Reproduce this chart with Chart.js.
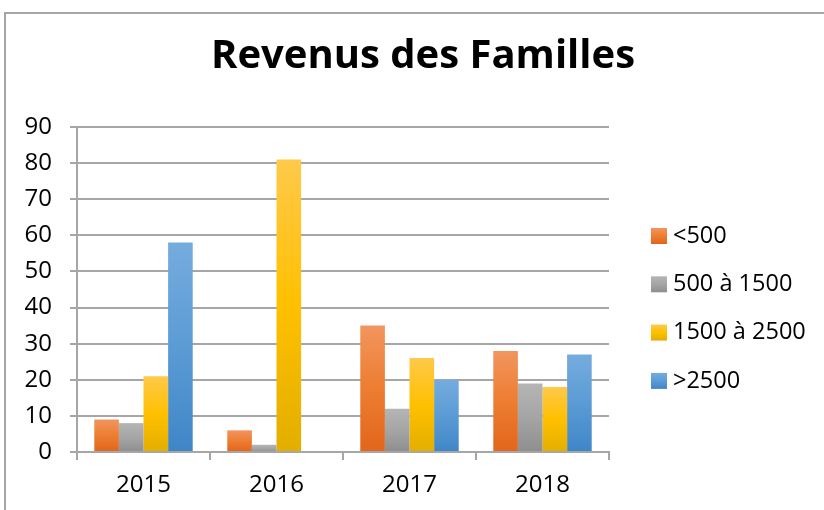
<!DOCTYPE html>
<html>
<head>
<meta charset="utf-8">
<script src="https://cdn.jsdelivr.net/npm/chart.js@4/dist/chart.umd.min.js"></script>
<style>
  html, body { margin: 0; padding: 0; background: #fff; }
  #wrap { width: 824px; height: 510px; position: relative; }
</style>
</head>
<body>
<div id="wrap"><canvas id="c" width="824" height="510"></canvas></div>
<script>
// données
const years = ["2015", "2016", "2017", "2018"];
const seriesNames = ["<500", "500 à 1500", "1500 à 2500", ">2500"];
const lt500 = [9, 6, 35, 28];
const from500 = [8, 2, 12, 19];
const from1500 = [21, 81, 26, 18];
const gt2500 = [58, 0, 20, 27];
const yTicks = [0, 10, 20, 30, 40, 50, 60, 70, 80, 90];

const FONT = "'Open Sans', 'Liberation Sans', sans-serif";

// teintes style Excel : clair en haut, foncé en bas
const shades = [
  ["#F2955F", "#ED7D31", "#E0661C"],
  ["#B5B5B5", "#A5A5A5", "#8E8E8E"],
  ["#FFC94A", "#FFC000", "#E3AE00"],
  ["#75ACDE", "#5B9BD5", "#3F86C7"],
];

function barFill(idx) {
  return (ctx) => {
    const s = shades[idx];
    const chart = ctx.chart;
    if (!chart.chartArea || ctx.type !== "data" || !ctx.parsed) return s[1];
    const y = chart.scales.y;
    const top = y.getPixelForValue(ctx.parsed.y);
    const bottom = y.getPixelForValue(0);
    if (!isFinite(top) || Math.abs(bottom - top) < 1) return s[1];
    const g = chart.ctx.createLinearGradient(0, top, 0, bottom);
    g.addColorStop(0, s[0]);
    g.addColorStop(0.5, s[1]);
    g.addColorStop(1, s[2]);
    return g;
  };
}

// cadre, titre et légende dessinés à la main
const decor = {
  id: "decor",
  beforeDraw(chart) {
    const c = chart.ctx;
    c.save();
    c.strokeStyle = "#A6A6A6";
    c.lineWidth = 2;
    c.beginPath();
    c.moveTo(5, 510);
    c.lineTo(5, 13);
    c.lineTo(824, 13);
    c.stroke();
    c.restore();
  },
  afterDraw(chart) {
    const c = chart.ctx;
    c.save();
    c.fillStyle = "#000";
    c.font = "bold 40px " + FONT;
    c.textAlign = "center";
    c.textBaseline = "alphabetic";
    c.fillText("Revenus des Familles", 423, 68);

    c.font = "23.5px " + FONT;
    c.textAlign = "left";
    c.textBaseline = "middle";
    seriesNames.forEach((name, i) => {
      const y0 = 228 + i * 48.3;
      const g = c.createLinearGradient(0, y0, 0, y0 + 16);
      g.addColorStop(0, shades[i][0]);
      g.addColorStop(0.5, shades[i][1]);
      g.addColorStop(1, shades[i][2]);
      c.fillStyle = g;
      c.fillRect(651, y0, 16, 16);
      c.fillStyle = "#000";
      c.fillText(name, 673, y0 + 8);
    });
    c.restore();
  },
};

const seriesData = [lt500, from500, from1500, gt2500];

new Chart(document.getElementById("c"), {
  type: "bar",
  data: {
    labels: years,
    datasets: seriesNames.map((name, i) => ({
      label: name,
      data: seriesData[i],
      backgroundColor: barFill(i),
      borderWidth: 0,
      categoryPercentage: 0.74,
      barPercentage: 1,
    })),
  },
  options: {
    responsive: false,
    animation: false,
    events: [],
    layout: { padding: { left: 17, top: 127, right: 215, bottom: 0 } },
    plugins: {
      legend: { display: false },
      title: { display: false },
      tooltip: { enabled: false },
    },
    scales: {
      x: {
        afterFit: (s) => { s.height = 58; },
        grid: {
          offset: true,
          drawOnChartArea: false,
          drawTicks: true,
          tickLength: 8,
          color: "#A6A6A6",
          lineWidth: 2,
        },
        border: { color: "#A6A6A6", width: 2 },
        ticks: { color: "#000", font: { family: FONT, size: 24 }, padding: 11 },
      },
      y: {
        min: 0,
        max: 90,
        afterFit: (s) => { s.width = 60; },
        afterBuildTicks: (s) => { s.ticks = yTicks.map((v) => ({ value: v })); },
        grid: { color: "#A6A6A6", lineWidth: 2, tickLength: 7 },
        border: { color: "#A6A6A6", width: 2 },
        ticks: { color: "#000", font: { family: FONT, size: 24 }, padding: 18 },
      },
    },
  },
  plugins: [decor],
});
</script>
</body>
</html>
